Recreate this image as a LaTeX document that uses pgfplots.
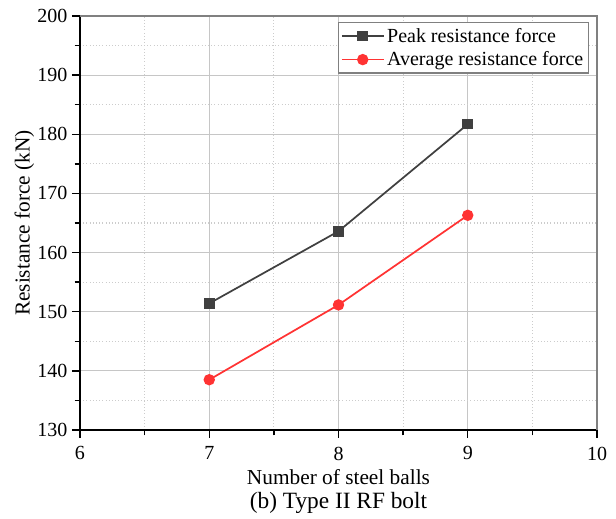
\documentclass[border=0pt]{standalone}
\usepackage{pgfplots}
\pgfplotsset{compat=1.18}
\usepackage{fontspec}
\setmainfont{Liberation Serif}
\definecolor{peak}{HTML}{404040}
\definecolor{avg}{HTML}{FF3333}
\begin{document}
\begin{tikzpicture}
\begin{axis}[
  scale only axis,
  width=387.75pt, height=310.5pt,
  xmin=6, xmax=10, ymin=130, ymax=200,
  xtick={6,7,8,9,10}, ytick={130,140,...,200},
  minor x tick num=1, minor y tick num=1,
  axis x line*=bottom, axis y line*=left,
  axis line style={black, line width=1.3pt, -},
  tick align=outside,
  major tick length=6pt, minor tick length=4pt,
  every tick/.style={black, line width=1pt},
  grid=both,
  major grid style={gray!45, line width=0.9pt},
  minor grid style={gray!40, dotted, line width=0.9pt},
  /pgf/number format/assume math mode=true,
  tick label style={font=\fontsize{15}{17}\selectfont},
  xticklabel style={yshift=-3pt},
  xlabel={Number of steel balls},
  ylabel={Resistance force (kN)},
  label style={font=\fontsize{16}{19}\selectfont},
  xlabel style={yshift=0pt},
  ylabel style={yshift=-4.5pt},
  legend style={at={(rel axis cs:0.985,0.985)}, anchor=north east,
    draw=gray, line width=0.9pt, font=\fontsize{15}{18}\selectfont,
    row sep=1.5pt, inner sep=2pt},
  legend cell align=left,
  legend image code/.code={\draw[mark repeat=2,mark phase=2] plot coordinates {(0cm,0cm) (0.55cm,0cm) (1.1cm,0cm)};},
  clip=false,
]
\addplot[peak, line width=1.3pt, mark=square*, mark size=3.3pt, mark options={fill=peak}]
  coordinates {(7,151.4) (8,163.6) (9,181.7)};
\addlegendentry{Peak resistance force}
\addplot[avg, line width=1.3pt, mark=*, mark size=3.6pt, mark options={fill=avg}]
  coordinates {(7,138.5) (8,151.15) (9,166.3)};
\addlegendentry{Average resistance force}
\draw[gray, line width=1.1pt] (rel axis cs:0,1) -- (rel axis cs:1,1) -- (rel axis cs:1,0);
\end{axis}
\node[anchor=north, font=\fontsize{17.5}{20}\selectfont] at ([yshift=-43pt]current axis.south) {(b) Type II RF bolt};
\useasboundingbox ([xshift=-60pt, yshift=-66.75pt]current axis.south west) rectangle ([xshift=14.25pt, yshift=12pt]current axis.north east);
\end{tikzpicture}
\end{document}
